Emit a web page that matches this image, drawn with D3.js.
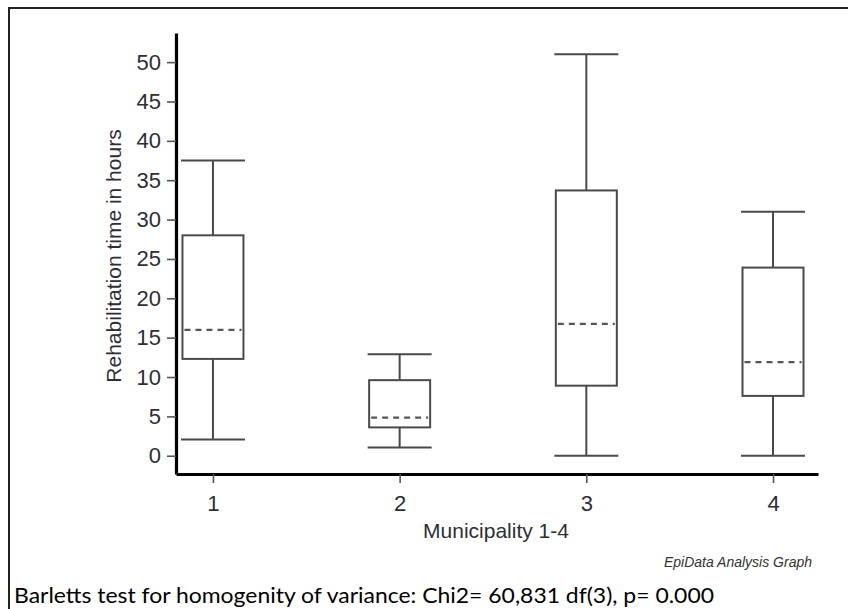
<!DOCTYPE html>
<html><head><meta charset="utf-8">
<script src="https://cdn.jsdelivr.net/npm/d3@7"></script>
<style>
html,body{margin:0;padding:0;background:#fff;}
svg{display:block;}
</style></head>
<body>
<script>
// ---- data ----
const categories = [1, 2, 3, 4];
const whiskerLow  = [2.05, 1.05, 0, 0];
const q1          = [12.3, 3.6, 8.9, 7.6];
const median      = [16.0, 4.85, 16.75, 11.9];
const q3          = [28.0, 9.6, 33.7, 23.9];
const whiskerHigh = [37.5, 12.9, 51.0, 31.0];
const yTicks = [0, 5, 10, 15, 20, 25, 30, 35, 40, 45, 50];
const xTicks = [1, 2, 3, 4];
const yTitle = "Rehabilitation time in hours";
const xTitle = "Municipality 1-4";
const credit = "EpiData Analysis Graph";
const caption = "Barletts test for homogenity of variance: Chi2= 60,831 df(3), p= 0.000";

const W = 848, H = 609;
const svg = d3.select("body").append("svg").attr("width", W).attr("height", H);

// outer frame
svg.append("rect").attr("x", 9).attr("y", 8).attr("width", W + 20).attr("height", H + 20)
  .attr("fill", "none").attr("stroke", "#222").attr("stroke-width", 2);

const x = d3.scaleLinear().domain([0.802, 4.241]).range([176, 818]);
const y = d3.scaleLinear().domain([-2.32, 53.7]).range([474, 33]);

const font = "'Liberation Sans', Arial, sans-serif";
const txt = "#2e2e36";
const fmt = d3.format("d");

// Y axis
const gy = svg.append("g").attr("transform", "translate(176,0)")
  .call(d3.axisLeft(y).tickValues(yTicks).tickFormat(fmt).tickSize(9).tickSizeOuter(0).tickPadding(6));
gy.select(".domain").attr("stroke", "#000").attr("stroke-width", 3.2);
gy.selectAll(".tick line").attr("stroke", "#555").attr("stroke-width", 1.6);
gy.selectAll(".tick text").attr("font-family", font).attr("font-size", 22).attr("fill", txt);

// X axis
const gx = svg.append("g").attr("transform", "translate(0,474)")
  .call(d3.axisBottom(x).tickValues(xTicks).tickFormat(fmt).tickSize(9).tickSizeOuter(0).tickPadding(12));
gx.select(".domain").attr("stroke", "#000").attr("stroke-width", 3.2);
gx.selectAll(".tick line").attr("stroke", "#555").attr("stroke-width", 1.6);
gx.selectAll(".tick text").attr("font-family", font).attr("font-size", 22).attr("fill", txt);

// boxes
const boxW = 61, capW = 64;
const stroke = "#4a4a4a";
const data = categories.map((c, i) => ({c, lo: whiskerLow[i], q1: q1[i], med: median[i], q3: q3[i], hi: whiskerHigh[i]}));
const g = svg.append("g");
data.forEach(d => {
  const cx = x(d.c);
  g.append("line").attr("x1", cx).attr("x2", cx).attr("y1", y(d.hi)).attr("y2", y(d.q3))
    .attr("stroke", stroke).attr("stroke-width", 2);
  g.append("line").attr("x1", cx).attr("x2", cx).attr("y1", y(d.q1)).attr("y2", y(d.lo))
    .attr("stroke", stroke).attr("stroke-width", 2);
  [d.hi, d.lo].forEach(v => {
    g.append("line").attr("x1", cx - capW / 2).attr("x2", cx + capW / 2).attr("y1", y(v)).attr("y2", y(v))
      .attr("stroke", stroke).attr("stroke-width", 2);
  });
  g.append("rect").attr("x", cx - boxW / 2).attr("y", y(d.q3)).attr("width", boxW)
    .attr("height", y(d.q1) - y(d.q3)).attr("fill", "#fff").attr("stroke", stroke).attr("stroke-width", 2);
  g.append("line").attr("x1", cx - boxW / 2 + 2).attr("x2", cx + boxW / 2 - 2).attr("y1", y(d.med)).attr("y2", y(d.med))
    .attr("stroke", "#555").attr("stroke-width", 2.2).attr("stroke-dasharray", "6,5");
});

// titles
svg.append("text").attr("transform", "translate(121,256) rotate(-90)")
  .attr("text-anchor", "middle").attr("font-family", font).attr("font-size", 21).attr("fill", txt).text(yTitle);
svg.append("text").attr("x", 496).attr("y", 538).attr("text-anchor", "middle")
  .attr("font-family", font).attr("font-size", 21).attr("fill", txt).text(xTitle);
svg.append("text").attr("x", 812).attr("y", 567).attr("text-anchor", "end")
  .attr("font-family", font).attr("font-style", "italic").attr("font-size", 14).attr("fill", "#333").text(credit);

// caption
svg.append("text").attr("x", 14).attr("y", 603)
  .attr("font-family", "Lato, 'Open Sans', sans-serif").attr("font-size", 22).attr("fill", "#000")
  .attr("textLength", 700).attr("lengthAdjust", "spacingAndGlyphs").text(caption);
</script>
</body></html>
